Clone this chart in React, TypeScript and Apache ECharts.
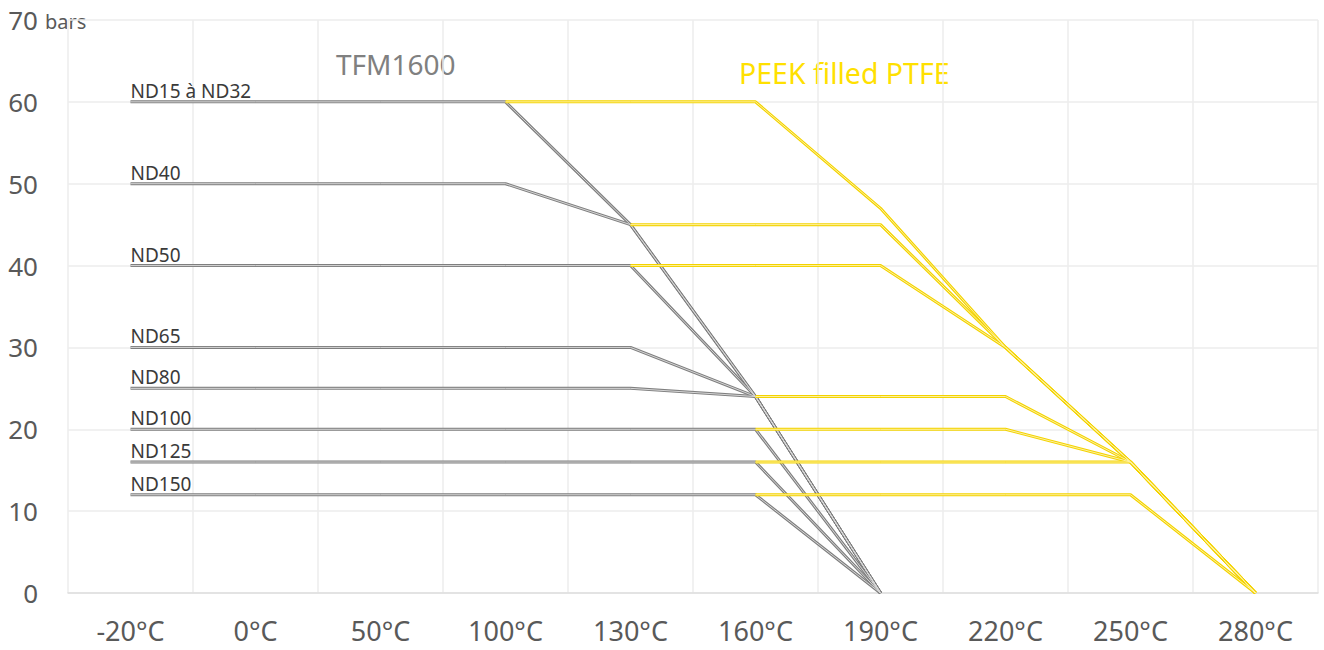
import React, { useEffect, useRef } from 'react';
import * as echarts from 'echarts';

const categories = ['-20°C', '0°C', '50°C', '100°C', '130°C', '160°C', '190°C', '220°C', '250°C', '280°C'];

const sizeNames = ['ND15 à ND32', 'ND40', 'ND50', 'ND65', 'ND80', 'ND100', 'ND125', 'ND150'];

// TFM1600 (grey) pressure curves, bars
const tfmND15 = [60, 60, 60, 60, 45, 24, 0, null, null, null];
const tfmND40 = [50, 50, 50, 50, 45, 24, 0, null, null, null];
const tfmND50 = [40, 40, 40, 40, 40, 24, 0, null, null, null];
const tfmND65 = [30, 30, 30, 30, 30, 24, 0, null, null, null];
const tfmND80 = [25, 25, 25, 25, 25, 24, 0, null, null, null];
const tfmND100 = [20, 20, 20, 20, 20, 20, 0, null, null, null];
const tfmND125 = [16, 16, 16, 16, 16, 16, 0, null, null, null];
const tfmND150 = [12, 12, 12, 12, 12, 12, 0, null, null, null];

// PEEK filled PTFE (yellow) pressure curves, bars
const peekND15 = [null, null, null, 60, 60, 60, 47, 30, 16, 0];
const peekND40 = [null, null, null, null, 45, 45, 45, 30, 16, 0];
const peekND50 = [null, null, null, null, 40, 40, 40, 30, 16, 0];
const peekND65 = [null, null, null, null, null, 24, 24, 24, 16, 0];
const peekND100 = [null, null, null, null, null, 20, 20, 20, 16, 0];
const peekND125 = [null, null, null, null, null, 16, 16, 16, 16, 0];
const peekND150 = [null, null, null, null, null, 12, 12, 12, 12, 0];

const tfmSeries = [tfmND15, tfmND40, tfmND50, tfmND65, tfmND80, tfmND100, tfmND125, tfmND150];
const peekSeries = [peekND15, peekND40, peekND50, peekND65, peekND100, peekND125, peekND150];

const FONT = '"Noto Sans", "Open Sans", sans-serif';
const GREY = '#7f7f7f';
const GREY_IN = '#d6d6d6';
const YELLOW = '#F3D300';
const YELLOW_IN = '#FFF1A0';

export default function App() {
  const ref = useRef<HTMLDivElement>(null);

  useEffect(() => {
    document.body.style.margin = '0';
    if (!ref.current) return;
    const chart = echarts.init(ref.current, undefined, { renderer: 'svg' });

    const series: any[] = [];
    tfmSeries.forEach((arr, i) => {
      series.push({
        type: 'line',
        name: sizeNames[i],
        data: arr.map((v, j) =>
          j === 0
            ? {
                value: v,
                label: {
                  show: true,
                  position: 'top',
                  align: 'left',
                  distance: 1,
                  formatter: sizeNames[i],
                  fontFamily: FONT,
                  fontSize: 19,
                  color: '#3a3a3a',
                },
              }
            : v
        ),
        symbol: 'circle',
        symbolSize: 1,
        showSymbol: true,
        showAllSymbol: true,
        itemStyle: { color: 'rgba(0,0,0,0)' },
        lineStyle: { color: GREY, width: 3 },
        silent: true,
        emphasis: { disabled: true },
        z: 2,
      });
    });
    tfmSeries.forEach((arr) => {
      series.push({
        type: 'line',
        data: arr,
        symbol: 'none',
        lineStyle: { color: GREY_IN, width: 1 },
        silent: true,
        emphasis: { disabled: true },
        z: 3,
      });
    });
    peekSeries.forEach((arr) => {
      series.push({
        type: 'line',
        data: arr,
        symbol: 'none',
        lineStyle: { color: YELLOW, width: 3 },
        silent: true,
        emphasis: { disabled: true },
        z: 4,
      });
    });
    peekSeries.forEach((arr) => {
      series.push({
        type: 'line',
        data: arr,
        symbol: 'none',
        lineStyle: { color: YELLOW_IN, width: 1 },
        silent: true,
        emphasis: { disabled: true },
        z: 5,
      });
    });

    chart.setOption({
      animation: false,
      backgroundColor: '#ffffff',
      grid: { left: 68, right: 6, top: 20, bottom: 57, containLabel: false },
      xAxis: {
        type: 'category',
        data: categories,
        boundaryGap: true,
        axisLine: { show: true, lineStyle: { color: '#dedede', width: 1.5 } },
        axisTick: { show: false },
        axisLabel: { fontFamily: FONT, fontSize: 27, color: '#595959', margin: 24 },
        splitLine: { show: true, lineStyle: { color: '#ececec', width: 1.5 } },
      },
      yAxis: {
        type: 'value',
        min: 0,
        max: 70,
        interval: 10,
        axisLine: { show: false },
        axisTick: { show: false },
        axisLabel: { fontFamily: FONT, fontSize: 26, color: '#595959', margin: 30 },
        splitLine: { show: true, lineStyle: { color: '#ececec', width: 1.5 } },
      },
      graphic: [
        {
          type: 'text',
          left: 45,
          top: 11,
          style: { text: 'bars', fontFamily: FONT, fontSize: 20, fill: '#595959' },
        },
        {
          type: 'text',
          left: 336,
          top: 50,
          style: { text: 'TFM1600', fontFamily: FONT, fontSize: 28, fill: '#808080' },
        },
        {
          type: 'text',
          left: 739,
          top: 58,
          style: { text: 'PEEK filled PTFE', fontFamily: FONT, fontSize: 28.5, fill: '#FFE000' },
        },
      ],
      series,
    });

    return () => chart.dispose();
  }, []);

  return <div ref={ref} style={{ position: 'fixed', left: 0, top: 0, width: 1324, height: 650 }} />;
}
